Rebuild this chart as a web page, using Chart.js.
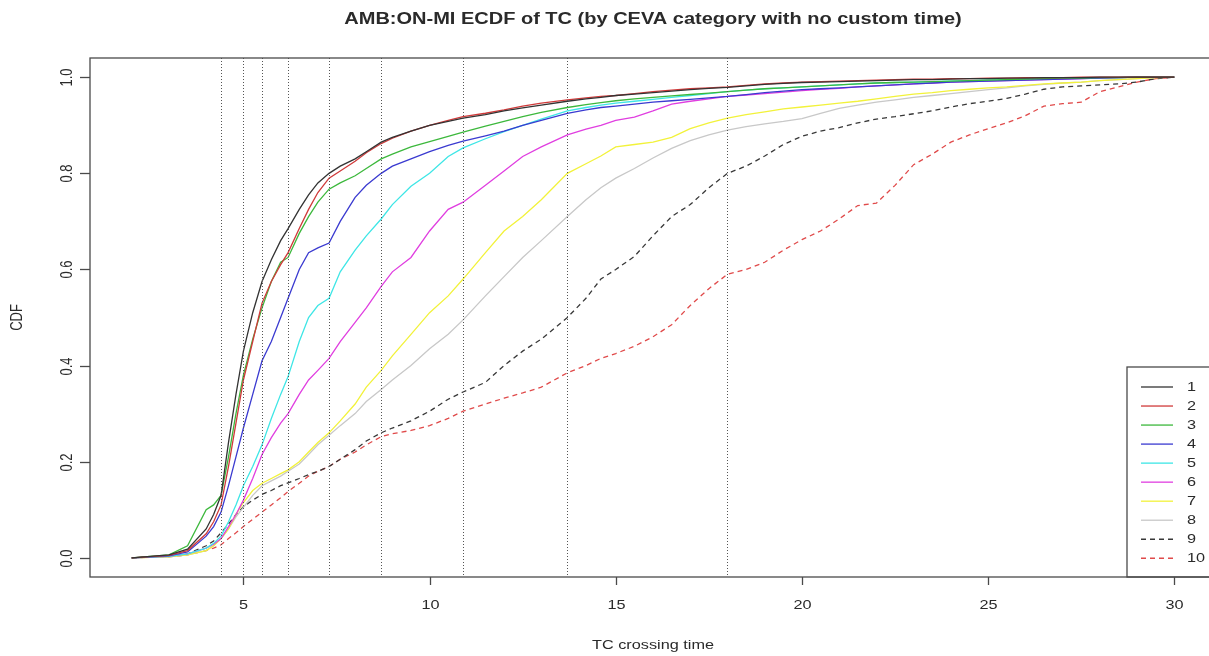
<!DOCTYPE html>
<html lang="en">
<head>
<meta charset="UTF-8">
<title>AMB:ON-MI ECDF of TC</title>
<script src="https://cdn.jsdelivr.net/npm/chart.js"></script>
<style>
  html, body { margin: 0; padding: 0; background: #fff; overflow: hidden; }
  #wrap { width: 1230px; height: 656px; }
</style>
</head>
<body>
<div id="wrap"><canvas id="ecdf" width="1230" height="656"></canvas></div>
<script>
// TC crossing time grid where the curves were read
var tcTime = [2, 3, 3.5, 4, 4.2, 4.4, 4.6, 4.8, 5, 5.25, 5.5, 5.75, 6, 6.2, 6.5, 6.75, 7, 7.3, 7.6,
  8, 8.3, 8.7, 9, 9.5, 10, 10.5, 10.9, 11.5, 12, 12.5, 13, 13.7, 14.2, 14.6, 15, 15.5, 16, 16.5,
  17, 17.5, 18, 18.5, 19, 19.5, 20, 20.5, 21, 21.5, 22, 22.5, 23, 23.5, 24, 24.5, 25, 25.5,
  26, 26.5, 27, 27.5, 28, 28.5, 29, 29.5, 30];

var cat1 = [0, 0.006, 0.018, 0.06, 0.09, 0.13, 0.24, 0.34, 0.43, 0.51, 0.575, 0.62, 0.66, 0.685, 0.725, 0.755,
  0.78, 0.80, 0.815, 0.83, 0.845, 0.865, 0.875, 0.888, 0.90, 0.908, 0.915, 0.922, 0.93, 0.936, 0.942, 0.95,
  0.955, 0.958, 0.962, 0.965, 0.968, 0.971, 0.974, 0.977, 0.979, 0.982, 0.985, 0.987,
  0.989, 0.99, 0.991, 0.992, 0.993, 0.994, 0.995, 0.995, 0.996, 0.997, 0.997, 0.998, 0.998, 0.999, 0.999, 0.999, 1, 1, 1, 1, 1];
var cat2 = [0, 0.005, 0.015, 0.05, 0.075, 0.11, 0.19, 0.28, 0.37, 0.45, 0.53, 0.575, 0.61, 0.635, 0.685, 0.725,
  0.76, 0.79, 0.805, 0.825, 0.843, 0.862, 0.873, 0.888, 0.90, 0.91, 0.918, 0.925, 0.932, 0.94, 0.946, 0.953,
  0.957, 0.96, 0.962, 0.966, 0.97, 0.973, 0.976, 0.978, 0.98, 0.983, 0.986, 0.988,
  0.99, 0.991, 0.992, 0.993, 0.994, 0.995, 0.996, 0.996, 0.997, 0.997, 0.998, 0.998, 0.999, 0.999, 0.999, 1, 1, 1, 1, 1, 1];
var cat3 = [0, 0.006, 0.025, 0.10, 0.11, 0.13, 0.21, 0.30, 0.38, 0.455, 0.52, 0.575, 0.615, 0.625, 0.675, 0.71,
  0.74, 0.767, 0.78, 0.795, 0.81, 0.83, 0.84, 0.855, 0.866, 0.877, 0.886, 0.898, 0.908, 0.918, 0.927, 0.937,
  0.943, 0.947, 0.951, 0.955, 0.958, 0.961, 0.964, 0.967, 0.97, 0.973, 0.976, 0.978,
  0.98, 0.982, 0.984, 0.986, 0.988, 0.989, 0.99, 0.991, 0.992, 0.993, 0.994, 0.995, 0.996, 0.997, 0.998, 0.998, 0.999, 0.999, 1, 1, 1];
var cat4 = [0, 0.004, 0.012, 0.045, 0.065, 0.095, 0.15, 0.21, 0.27, 0.34, 0.41, 0.45, 0.50, 0.54, 0.60, 0.635,
  0.645, 0.655, 0.70, 0.75, 0.775, 0.80, 0.815, 0.83, 0.845, 0.858, 0.867, 0.878, 0.888, 0.90, 0.91, 0.925,
  0.932, 0.937, 0.94, 0.944, 0.948, 0.951, 0.954, 0.957, 0.96, 0.964, 0.968, 0.971,
  0.974, 0.976, 0.978, 0.98, 0.982, 0.984, 0.986, 0.988, 0.99, 0.991, 0.992, 0.993, 0.994, 0.995, 0.996, 0.997, 0.998, 0.999, 1, 1, 1];
var cat5 = [0, 0.003, 0.008, 0.02, 0.03, 0.045, 0.075, 0.11, 0.15, 0.19, 0.235, 0.29, 0.34, 0.377, 0.45, 0.50,
  0.525, 0.54, 0.595, 0.64, 0.67, 0.705, 0.735, 0.773, 0.80, 0.835, 0.853, 0.872, 0.887, 0.90, 0.913, 0.93,
  0.937, 0.942, 0.946, 0.95, 0.954, 0.958, 0.962, 0.966, 0.97, 0.973, 0.976, 0.978,
  0.98, 0.982, 0.984, 0.986, 0.988, 0.989, 0.99, 0.991, 0.992, 0.993, 0.994, 0.995, 0.996, 0.997, 0.998, 0.998, 0.999, 0.999, 1, 1, 1];
var cat6 = [0, 0.003, 0.008, 0.02, 0.028, 0.04, 0.065, 0.09, 0.12, 0.165, 0.215, 0.25, 0.28, 0.30, 0.34, 0.37,
  0.39, 0.415, 0.45, 0.49, 0.52, 0.565, 0.595, 0.625, 0.68, 0.725, 0.74, 0.775, 0.805, 0.835, 0.855, 0.88,
  0.892, 0.90, 0.91, 0.917, 0.93, 0.944, 0.95, 0.955, 0.96, 0.963, 0.966, 0.969,
  0.972, 0.975, 0.977, 0.98, 0.982, 0.984, 0.986, 0.988, 0.99, 0.991, 0.992, 0.993, 0.994, 0.995, 0.996, 0.997, 0.998, 0.999, 1, 1, 1];
var cat7 = [0, 0.002, 0.006, 0.015, 0.025, 0.04, 0.06, 0.09, 0.115, 0.14, 0.155, 0.165, 0.175, 0.183, 0.20, 0.22,
  0.24, 0.26, 0.285, 0.32, 0.355, 0.39, 0.42, 0.465, 0.51, 0.545, 0.58, 0.635, 0.68, 0.71, 0.745, 0.80,
  0.82, 0.836, 0.855, 0.86, 0.865, 0.875, 0.893, 0.905, 0.915, 0.922, 0.928, 0.934,
  0.938, 0.942, 0.946, 0.95, 0.955, 0.96, 0.965, 0.968, 0.972, 0.975, 0.978, 0.98, 0.983, 0.986, 0.988, 0.99, 0.993, 0.995, 0.997, 0.999, 1];
var cat8 = [0, 0.002, 0.006, 0.015, 0.025, 0.04, 0.06, 0.085, 0.105, 0.13, 0.15, 0.16, 0.17, 0.18, 0.195, 0.215,
  0.235, 0.255, 0.275, 0.30, 0.325, 0.35, 0.37, 0.40, 0.435, 0.465, 0.495, 0.545, 0.585, 0.625, 0.66, 0.71,
  0.745, 0.77, 0.79, 0.81, 0.832, 0.852, 0.868, 0.88, 0.89, 0.897, 0.903, 0.908,
  0.914, 0.925, 0.935, 0.942, 0.948, 0.953, 0.958, 0.962, 0.966, 0.97, 0.974, 0.978, 0.982, 0.985, 0.988, 0.99, 0.993, 0.995, 0.997, 0.999, 1];
var cat9 = [0, 0.003, 0.008, 0.025, 0.035, 0.052, 0.07, 0.09, 0.106, 0.12, 0.132, 0.14, 0.15, 0.156, 0.165, 0.173,
  0.18, 0.19, 0.205, 0.225, 0.243, 0.26, 0.27, 0.285, 0.305, 0.33, 0.345, 0.365, 0.40, 0.43, 0.455, 0.50,
  0.54, 0.58, 0.60, 0.627, 0.67, 0.71, 0.735, 0.77, 0.80, 0.815, 0.836, 0.86,
  0.877, 0.888, 0.895, 0.905, 0.913, 0.918, 0.924, 0.93, 0.938, 0.945, 0.95, 0.956, 0.965, 0.975, 0.98, 0.982, 0.984, 0.986, 0.99, 0.997, 1];
var cat10 = [0, 0.002, 0.006, 0.015, 0.02, 0.027, 0.04, 0.052, 0.065, 0.08, 0.095, 0.11, 0.125, 0.138, 0.155, 0.17,
  0.18, 0.19, 0.205, 0.22, 0.235, 0.252, 0.258, 0.265, 0.275, 0.29, 0.305, 0.32, 0.332, 0.343, 0.355, 0.385,
  0.40, 0.415, 0.425, 0.44, 0.46, 0.485, 0.525, 0.56, 0.59, 0.60, 0.615, 0.64,
  0.662, 0.68, 0.705, 0.733, 0.738, 0.775, 0.818, 0.84, 0.865, 0.88, 0.893, 0.905, 0.92, 0.94, 0.945, 0.948, 0.97, 0.98, 0.99, 0.997, 1];

var categories = ['1', '2', '3', '4', '5', '6', '7', '8', '9', '10'];
var seriesValues = [cat1, cat2, cat3, cat4, cat5, cat6, cat7, cat8, cat9, cat10];
var crossMarks = [4.4, 5.0, 5.5, 6.2, 7.3, 8.7, 10.9, 13.7, 18.0];
var xTicks = [5, 10, 15, 20, 25, 30];
var yTicks = [0, 0.2, 0.4, 0.6, 0.8, 1.0];
var yTickLabels = ['0.0', '0.2', '0.4', '0.6', '0.8', '1.0'];

var colors = ['#333333', '#d03a3a', '#3cb83c', '#3a3ad0', '#3ee6e6', '#e03ee0', '#f2f23a', '#c8c8c8', '#383838', '#e04a4a'];
var dashes = [[], [], [], [], [], [], [], [], [5, 4], [5, 4]];

var SX = 1.25;   // the picture is stretched sideways
var FONT = '"Liberation Sans", Arial, sans-serif';
var INK = '#2a2a2a';

function stretchText(ctx, s, x, y, rot, align) {
  ctx.save();
  ctx.translate(x, y);
  ctx.scale(SX, 1);
  if (rot) ctx.rotate(rot);
  ctx.textAlign = align || 'center';
  ctx.textBaseline = 'middle';
  ctx.fillText(s, 0, 0);
  ctx.restore();
}

var rFrame = {
  id: 'rFrame',
  afterDatasetsDraw: function (chart) {
    var ctx = chart.ctx, a = chart.chartArea, xs = chart.scales.x;
    ctx.save();
    ctx.strokeStyle = '#555555';
    ctx.lineWidth = 1;
    ctx.setLineDash([1, 2]);
    crossMarks.forEach(function (v) {
      var px = Math.round(xs.getPixelForValue(v)) + 0.5;
      ctx.beginPath();
      ctx.moveTo(px, a.top);
      ctx.lineTo(px, a.bottom);
      ctx.stroke();
    });
    ctx.restore();
  },
  afterDraw: function (chart) {
    var ctx = chart.ctx, a = chart.chartArea, xs = chart.scales.x, ys = chart.scales.y;
    ctx.save();

    // legend box (bottom right, inside the plot)
    var lx = a.right - 89, ly = a.bottom - 210;
    ctx.fillStyle = '#fff';
    ctx.fillRect(lx, ly, a.right - lx, a.bottom - ly);
    ctx.strokeStyle = '#4a4a4a';
    ctx.lineWidth = 1.3;
    ctx.strokeRect(lx, ly, a.right - lx, a.bottom - ly);
    ctx.font = '13px ' + FONT;
    chart.data.datasets.forEach(function (ds, i) {
      var yy = ly + 20 + i * 19.03;
      ctx.save();
      ctx.strokeStyle = ds.borderColor;
      ctx.lineWidth = 1.3;
      ctx.setLineDash(ds.borderDash || []);
      ctx.beginPath();
      ctx.moveTo(lx + 14, yy);
      ctx.lineTo(lx + 46, yy);
      ctx.stroke();
      ctx.restore();
      ctx.fillStyle = INK;
      stretchText(ctx, ds.label, lx + 60, yy, 0, 'left');
    });

    // plot box
    ctx.strokeStyle = '#4a4a4a';
    ctx.lineWidth = 1.3;
    ctx.strokeRect(a.left, a.top, a.right - a.left, a.bottom - a.top);

    // x axis ticks and labels
    ctx.fillStyle = INK;
    ctx.font = '13px ' + FONT;
    xTicks.forEach(function (t) {
      var px = Math.round(xs.getPixelForValue(t)) + 0.5;
      ctx.beginPath();
      ctx.moveTo(px, a.bottom);
      ctx.lineTo(px, a.bottom + 8);
      ctx.stroke();
      stretchText(ctx, String(t), px, a.bottom + 28, 0, 'center');
    });

    // y axis ticks and labels (rotated, R style)
    yTicks.forEach(function (t, i) {
      var py = Math.round(ys.getPixelForValue(t)) + 0.5;
      ctx.beginPath();
      ctx.moveTo(a.left, py);
      ctx.lineTo(a.left - 10, py);
      ctx.stroke();
      stretchText(ctx, yTickLabels[i], a.left - 22, py, -Math.PI / 2, 'center');
    });

    // axis titles
    stretchText(ctx, 'TC crossing time', (a.left + a.right) / 2, 645, 0, 'center');
    stretchText(ctx, 'CDF', 18, (a.top + a.bottom) / 2, -Math.PI / 2, 'center');

    // main title
    ctx.font = 'bold 16px ' + FONT;
    stretchText(ctx, 'AMB:ON-MI ECDF of TC (by CEVA category with no custom time)', (a.left + a.right) / 2, 20, 0, 'center');

    ctx.restore();
  }
};

var datasets = categories.map(function (name, i) {
  return {
    label: name,
    data: tcTime.map(function (t, j) { return { x: t, y: seriesValues[i][j] }; }),
    borderColor: colors[i],
    borderWidth: 1.3,
    borderDash: dashes[i],
    pointRadius: 0,
    tension: 0,
    fill: false
  };
});

new Chart(document.getElementById('ecdf'), {
  type: 'line',
  data: { datasets: datasets },
  options: {
    responsive: false,
    animation: false,
    events: [],
    layout: { padding: { left: 90, top: 58, right: 14, bottom: 79 } },
    scales: {
      x: { type: 'linear', min: 0.88, max: 31.12, display: false },
      y: { type: 'linear', min: -0.04, max: 1.04, display: false }
    },
    plugins: {
      legend: { display: false },
      tooltip: { enabled: false },
      title: { display: false }
    }
  },
  plugins: [rFrame]
});
</script>
</body>
</html>
